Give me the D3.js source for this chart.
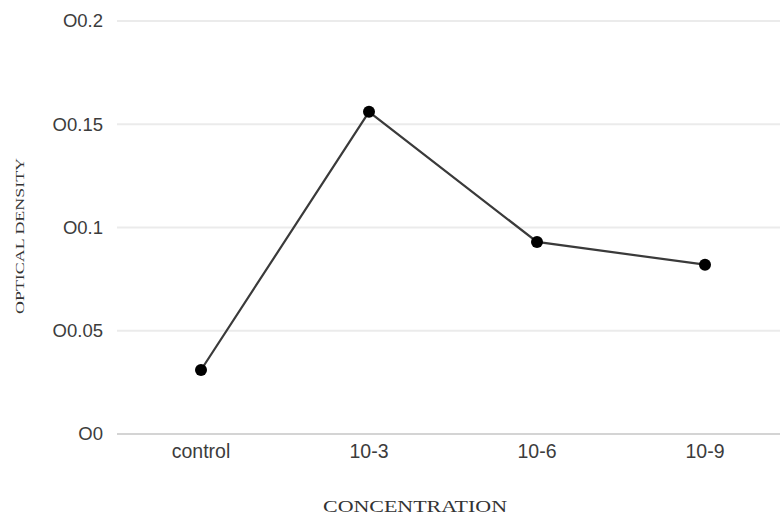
<!DOCTYPE html>
<html>
<head>
<meta charset="utf-8">
<script src="https://cdn.jsdelivr.net/npm/d3@7"></script>
<style>
  html, body { margin: 0; padding: 0; background: #fff; }
  svg { display: block; }
</style>
</head>
<body>
<div id="chart"></div>
<script>
const categories = ["control", "10-3", "10-6", "10-9"];
const values = [0.031, 0.156, 0.093, 0.082];
const yTicks = [0, 0.05, 0.1, 0.15, 0.2];
const yTickLabels = ["O0", "O0.05", "O0.1", "O0.15", "O0.2"];
const xTitle = "CONCENTRATION";
const yTitle = "OPTICAL DENSITY";

const W = 780, H = 515;
const svg = d3.select("#chart").append("svg").attr("width", W).attr("height", H);

const x = d3.scaleBand().domain(categories).range([117, 789]);
const y = d3.scaleLinear().domain([0, 0.2]).range([434, 21]);

// gridlines
svg.append("g").selectAll("line").data(yTicks).join("line")
  .attr("x1", 117).attr("x2", 789)
  .attr("y1", d => y(d)).attr("y2", d => y(d))
  .attr("stroke", (d) => d === 0 ? "#d4d4d4" : "#ebebeb")
  .attr("stroke-width", 2);

// y tick labels
svg.append("g").selectAll("text").data(yTicks).join("text")
  .attr("x", 103).attr("y", (d) => y(d))
  .attr("dy", "0.35em")
  .attr("text-anchor", "end")
  .attr("font-family", "Liberation Sans, Arial, sans-serif")
  .attr("font-size", 18.5)
  .attr("fill", "#3c3c3c")
  .text((d, i) => yTickLabels[i]);

// x tick labels
svg.append("g").selectAll("text").data(categories).join("text")
  .attr("x", d => x(d) + x.bandwidth() / 2)
  .attr("y", 458)
  .attr("text-anchor", "middle")
  .attr("font-family", "Liberation Sans, Arial, sans-serif")
  .attr("font-size", 19.5)
  .attr("fill", "#3c3c3c")
  .text(d => d);

// line
const line = d3.line()
  .x((d, i) => x(categories[i]) + x.bandwidth() / 2)
  .y(d => y(d));
svg.append("path").datum(values)
  .attr("d", line)
  .attr("fill", "none")
  .attr("stroke", "#3a3a3a")
  .attr("stroke-width", 2.2);

// markers
svg.append("g").selectAll("circle").data(values).join("circle")
  .attr("cx", (d, i) => x(categories[i]) + x.bandwidth() / 2)
  .attr("cy", d => y(d))
  .attr("r", 6)
  .attr("fill", "#000");

// axis titles
svg.append("text")
  .attr("x", 415).attr("y", 512)
  .attr("text-anchor", "middle")
  .attr("font-family", "Liberation Serif, Times New Roman, serif")
  .attr("font-size", 16)
  .attr("textLength", 184)
  .attr("lengthAdjust", "spacingAndGlyphs")
  .attr("fill", "#333")
  .text(xTitle);

svg.append("text")
  .attr("transform", "translate(24,236) rotate(-90)")
  .attr("text-anchor", "middle")
  .attr("font-family", "Liberation Serif, Times New Roman, serif")
  .attr("font-size", 13)
  .attr("textLength", 156)
  .attr("lengthAdjust", "spacingAndGlyphs")
  .attr("fill", "#333")
  .text(yTitle);
</script>
</body>
</html>
